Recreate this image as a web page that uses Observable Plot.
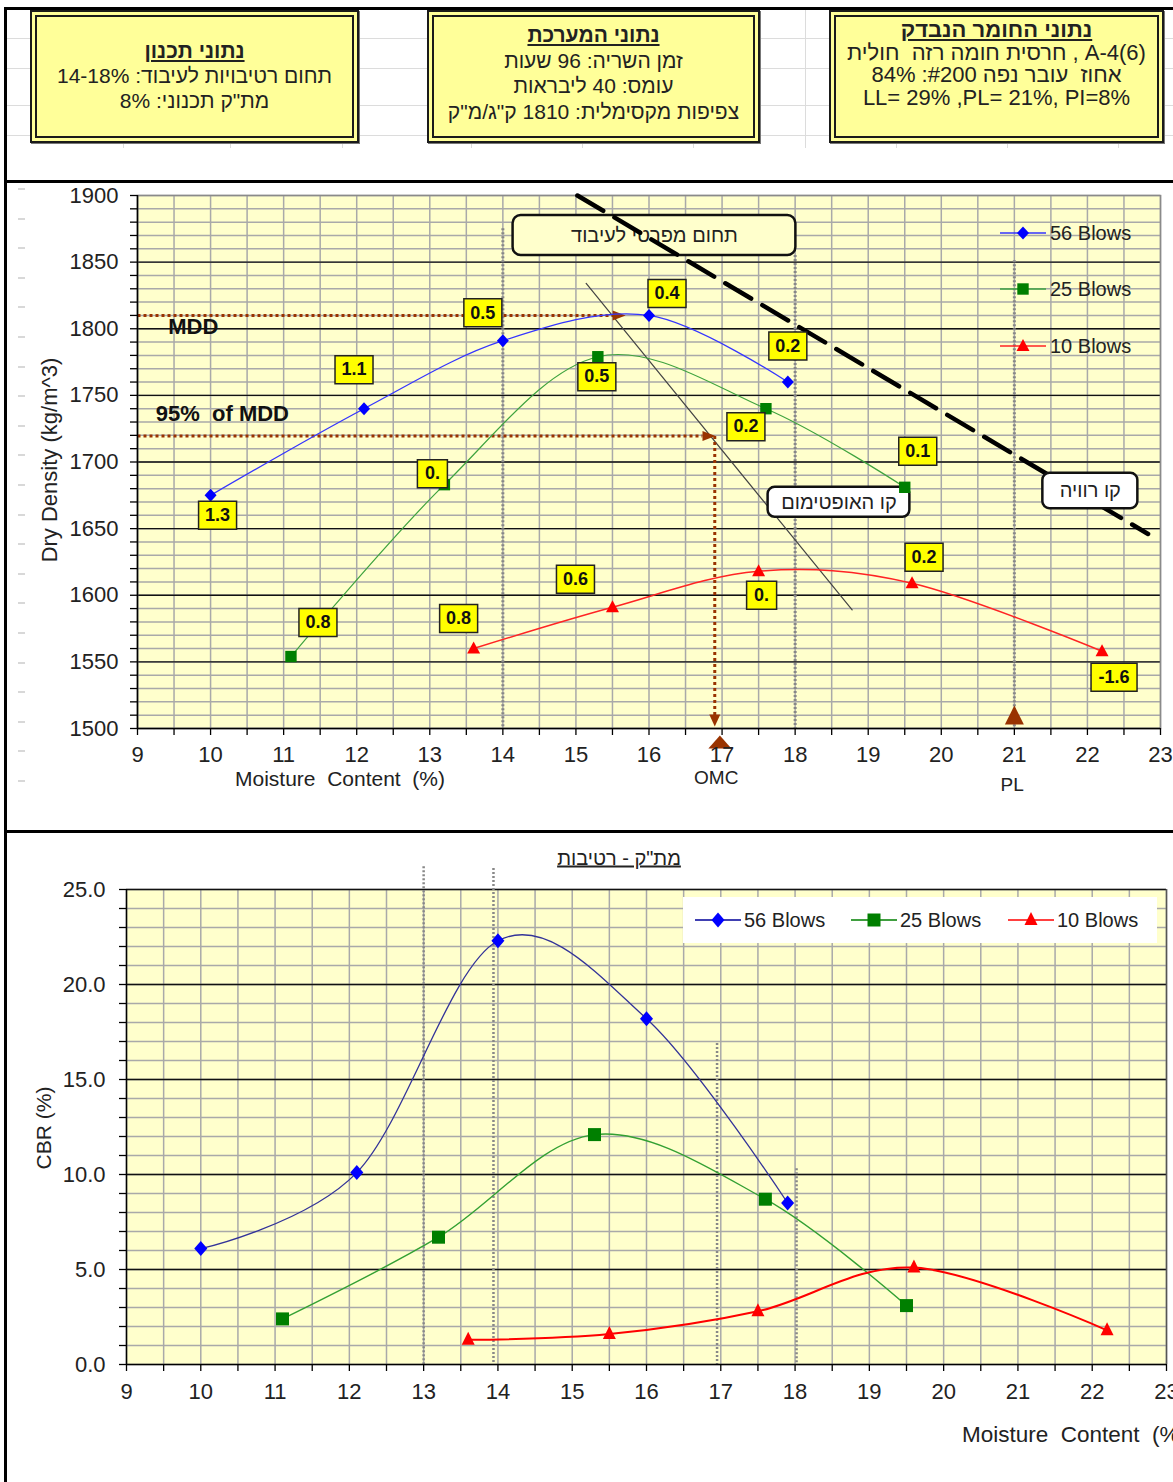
<!DOCTYPE html>
<html><head><meta charset="utf-8">
<script src="https://cdn.jsdelivr.net/npm/d3@7"></script>
<script src="https://cdn.jsdelivr.net/npm/@observablehq/plot@0.6"></script>
<style>
body{margin:0;background:#fff;}
#page{position:relative;width:1173px;height:1482px;overflow:hidden;background:#fff;font-family:"Liberation Sans",Arial,Helvetica,sans-serif;color:#222;}
.abs{position:absolute;}
.bl{position:absolute;background:#000;z-index:5;}
.sh{position:absolute;background:#dcdcdc;}
.box{position:absolute;box-sizing:border-box;background:#FFFF99;border:7px double #1a1a1a;direction:rtl;text-align:center;color:#222;z-index:2;box-shadow:1px 1px 0 #777;}
.box .t{font-weight:bold;text-decoration:underline;}
.lg{position:absolute;font-size:20px;white-space:nowrap;color:#222;line-height:24px;}
</style>
</head><body>
<div id="page"></div>
<script>
// ================= DATA =================
const seriesNames = ["56 Blows", "25 Blows", "10 Blows"];
const moisture56 = [10, 12.1, 14, 16, 17.9];
const moisture25 = [11.1, 13.2, 15.3, 17.6, 19.5];
const moisture10 = [13.6, 15.5, 17.5, 19.6, 22.2];
const density56 = [1675, 1740, 1791, 1810, 1760];
const density25 = [1554, 1683, 1779, 1740, 1681];
const density10 = [1560, 1591, 1618, 1609, 1558];
const cbr56 = [6.1, 10.1, 22.3, 18.2, 8.5];
const cbr25 = [2.4, 6.7, 12.1, 8.7, 3.1];
const cbr10 = [1.3, 1.6, 2.8, 5.1, 1.8];
const deviation56 = ["1.3", "1.1", "0.5", "0.4", "0.2"];
const deviation25 = ["0.8", "0.", "0.5", "0.2", "0.1"];
const deviation10 = ["0.8", "0.6", "0.", "0.2", "-1.6"];
const moistureTicks = d3.range(9, 23.001, 0.5);
const densityTicks = d3.range(1500, 1900.001, 10);
const cbrTicks = d3.range(0, 25.001, 1);
const mdd = 1810;
const mdd95 = 1719.5;
const mddMoisture = 15.68;
const omc = 16.9;
const omcMarker = 16.97;
const plasticLimit = 21;
const workRangeUpper = [{x: 14, top: 1875}, {x: 18, top: 1855}, {x: 21, top: 1851}];
const workRangeLower = [{x: 13, top: 26.2}, {x: 13.94, top: 26.1}, {x: 16.95, top: 16.9}, {x: 18.02, top: 10.3}];
const saturationLine = [{x: 15.02, y: 1900}, {x: 22.83, y: 1646}];
const optimumLine = [{x: 15.14, y: 1834}, {x: 18.78, y: 1589}];
const noteBoxes = [
  {x1: 14.14, x2: 18.01, y1: 1855, y2: 1885, text: "תחום מפרטי לעיבוד"},
  {x1: 21.39, x2: 22.69, y1: 1665, y2: 1691.5, text: "קו רוויה"},
  {x1: 17.63, x2: 19.57, y1: 1658.5, y2: 1681, text: "קו האופטימום"}
];
const boxDesign = ["נתוני תכנון", "תחום רטיבויות לעיבוד: 14-18%", "מת\"ק תכנוני: 8%"];
const boxSystem = ["נתוני המערכת", "זמן השריה: 96 שעות", "עומס: 40 ליבראות", "צפיפות מקסימלית: 1810 ק\"ג/מ\"ק"];
const boxMaterial = ["נתוני החומר הנבדק", "<bdi>A-4(6)</bdi> , חרסית חומה רזה&nbsp; חולית", "אחוז&nbsp; עובר נפה #200: 84%", "LL= 29% ,PL= 21%, PI=8%"];
const cbrTitle = "מת\"ק - רטיבות";

// ================= STYLE / LAYOUT =================
const font = '"Liberation Sans", Arial, Helvetica, sans-serif';
const markerFill = ["#0000FF", "#007F00", "#FF0000"];
const upperLine = ["#3535FF", "#3FA33F", "#FF2424"];
const upperWidth = [1.3, 1.2, 1.5];
const lowerLine = ["#333399", "#33A033", "#FF0000"];
const lowerWidth = [1.3, 1.4, 2];
const lowerLegendLine = ["#000099", "#007F00", "#FF0000"];
const upperPts = [
  [[0,-6.5],[6,0],[0,6.5],[-6,0]],
  [[-5.7,-5.7],[5.7,-5.7],[5.7,5.7],[-5.7,5.7]],
  [[0,-7],[6.5,5],[-6.5,5]]
];
const lowerPts = [
  [[0,-7.5],[6.5,0],[0,7.5],[-6.5,0]],
  [[-6.5,-6.5],[6.5,-6.5],[6.5,6.5],[-6.5,6.5]],
  [[0,-8],[6.5,5],[-6.5,5]]
];
const labelOffsets = [
  [[7,20],[-10,-39],[-20,-28],[18,-22],[0,-36]],
  [[27,-34],[-12,-11],[-1,20],[-20,18],[13,-36]],
  [[-15,-30],[-37,-28],[3,24],[12,-26],[12,26]]
];
const poly = pts => ({draw(ctx) { ctx.moveTo(pts[0][0], pts[0][1]); for (const p of pts.slice(1)) ctx.lineTo(p[0], p[1]); ctx.closePath(); }});
const pathOf = pts => "M" + pts.map(p => p.join(",")).join("L") + "Z";

const rows = (xs, ys, labels) => xs.map((x, i) => ({x, y: ys[i], label: labels ? labels[i] : null}));
const dens = [rows(moisture56, density56, deviation56), rows(moisture25, density25, deviation25), rows(moisture10, density10, deviation10)];
const cbrs = [rows(moisture56, cbr56), rows(moisture25, cbr25), rows(moisture10, cbr10)];

const page = document.getElementById("page");
function el(tag, cls, css, html) {
  const e = document.createElement(tag);
  if (cls) e.className = cls;
  if (css) e.style.cssText = css;
  if (html != null) e.innerHTML = html;
  page.appendChild(e);
  return e;
}

// faint spreadsheet grid in header
for (const y of [38, 68, 105, 135]) el("div", "sh", `left:7px;top:${y}px;width:1166px;height:1px`);
for (const x of [123, 230, 342, 471, 582, 693, 805, 896, 1007, 1118]) el("div", "sh", `left:${x}px;top:10px;width:1px;height:138px`);
for (let y = 188; y < 790; y += 29.6) el("div", "sh", `left:18px;top:${Math.round(y)}px;width:7px;height:2px;background:#d8d8d8`);

// header boxes
function infoBox(lines, css, lh) {
  const html = lines.map((t, i) => `<div class="${i === 0 ? "t" : ""}" style="line-height:${lh}px">${t}</div>`).join("");
  el("div", "box", css, html);
}
infoBox(boxDesign, "left:30px;top:10px;width:329px;height:133px;padding-top:21px;font-size:21px", 25);
infoBox(boxSystem, "left:427px;top:10px;width:333px;height:133px;padding-top:5px;font-size:21px", 25.7);
infoBox(boxMaterial, "left:829px;top:10px;width:335px;height:133px;padding-top:2px;font-size:22px", 22.7);

// ================= UPPER CHART =================
const upperMarks = [
  Plot.frame({fill: "#FFFFCC"}),
  Plot.ruleX(moistureTicks, {stroke: "#A9A9A9", strokeWidth: 1.5}),
  Plot.ruleY(densityTicks, {stroke: "#A9A9A9", strokeWidth: 1.5}),
  Plot.ruleY(densityTicks.filter(d => d % 50 === 0 && d > 1500 && d < 1900), {stroke: "#111", strokeWidth: 1.4}),
  Plot.frame({stroke: "#8a8a8a", strokeWidth: 1.5}),
  Plot.ruleX(workRangeUpper, {x: "x", y1: "top", y2: () => 1500, stroke: "#888", strokeWidth: 3, strokeDasharray: "2,2"}),
  Plot.line(optimumLine, {x: "x", y: "y", stroke: "#444", strokeWidth: 1.2}),
  Plot.rect(noteBoxes.slice(0, 1), {x1: "x1", x2: "x2", y1: "y1", y2: "y2", fill: "#FFFFCC", stroke: "#111", strokeWidth: 2.5, rx: 8}),
  Plot.text(noteBoxes.slice(0, 1), {x: d => (d.x1 + d.x2) / 2, y: d => (d.y1 + d.y2) / 2, text: "text", fontSize: 20, fill: "#222"}),
  Plot.line(saturationLine, {x: "x", y: "y", stroke: "#000", strokeWidth: 4.5, strokeDasharray: "30,13"}),
  Plot.rect(noteBoxes.slice(1), {x1: "x1", x2: "x2", y1: "y1", y2: "y2", fill: "#fff", stroke: "#111", strokeWidth: 2.5, rx: 7}),
  Plot.text(noteBoxes.slice(1), {x: d => (d.x1 + d.x2) / 2, y: d => (d.y1 + d.y2) / 2, text: "text", fontSize: 20, fill: "#222"}),
  // MDD guides
  Plot.link([{x1: 9, x2: mddMoisture - 0.17, y: mdd}, {x1: 9, x2: omc - 0.17, y: mdd95}], {x1: "x1", x2: "x2", y1: "y", y2: "y", stroke: "#993300", strokeWidth: 3, strokeDasharray: "3,3"}),
  Plot.link([{x: omc, y1: mdd95, y2: 1509}], {x1: "x", x2: "x", y1: "y1", y2: "y2", stroke: "#993300", strokeWidth: 3, strokeDasharray: "3,3"}),
  Plot.dot([{x: mddMoisture, y: mdd}, {x: omc + 0.01, y: mdd95}], {x: "x", y: "y", symbol: poly([[0,0],[-13,-5],[-13,5]]), fill: "#993300", stroke: "none"}),
  Plot.dot([{x: omc, y: 1500}], {x: "x", y: "y", dy: -2, symbol: poly([[0,0],[-5.5,-12],[5.5,-12]]), fill: "#993300", stroke: "none"}),
  Plot.dot([{x: omcMarker, y: 1500}], {x: "x", y: "y", symbol: poly([[0,7],[-11.5,20],[11.5,20]]), fill: "#993300", stroke: "none"}),
  Plot.dot([{x: plasticLimit, y: 1500}], {x: "x", y: "y", symbol: poly([[0,-23],[-9.5,-4],[9.5,-4]]), fill: "#993300", stroke: "none"}),
  Plot.text([{x: 9.42, y: 1801, t: "MDD"}, {x: 9.25, y: 1736, t: "95%  of MDD"}], {x: "x", y: "y", text: "t", textAnchor: "start", fontSize: 22, fontWeight: "bold", fill: "#111"}),
  // axes
  Plot.axisX(moistureTicks, {tickFormat: d => Number.isInteger(d) ? String(d) : "", tickSize: 7, tickPadding: 11, fontSize: 22, stroke: "#000", strokeWidth: 1.3, label: null}),
  Plot.axisY(densityTicks, {tickFormat: d => d % 50 === 0 ? String(d) : "", tickSize: 7, tickPadding: 12, fontSize: 22, stroke: "#000", strokeWidth: 1.3, label: null}),
  Plot.ruleX([9], {stroke: "#000", strokeWidth: 1.5}),
  Plot.ruleY([1500], {stroke: "#000", strokeWidth: 1.5}),
  Plot.text([{x: omcMarker - 0.05, t: "OMC", d: 49}, {x: plasticLimit - 0.03, t: "PL", d: 56}].slice(0, 1), {x: "x", y: () => 1500, dy: 49, text: "t", fontSize: 19, fill: "#222"}),
  Plot.text([{x: plasticLimit - 0.03, t: "PL"}], {x: "x", y: () => 1500, dy: 56, text: "t", fontSize: 19, fill: "#222"}),
];
dens.forEach((d, i) => {
  upperMarks.push(Plot.line(d, {x: "x", y: "y", stroke: upperLine[i], strokeWidth: upperWidth[i], curve: "cardinal"}));
});
dens.forEach((d, i) => {
  upperMarks.push(Plot.dot(d, {x: "x", y: "y", symbol: poly(upperPts[i]), fill: markerFill[i], stroke: "none"}));
});
dens.forEach((d, i) => {
  d.forEach((r, j) => {
    const [dx, dy] = labelOffsets[i][j];
    const w = 14 + 8 * r.label.length;
    upperMarks.push(Plot.dot([r], {x: "x", y: "y", dx, dy, symbol: poly([[-w/2,-14],[w/2,-14],[w/2,14],[-w/2,14]]), fill: "#FFFF00", stroke: "#222", strokeWidth: 1.5}));
    upperMarks.push(Plot.text([r], {x: "x", y: "y", dx, dy, text: "label", fontSize: 18, fontWeight: "bold", fill: "#111"}));
  });
});

const chart1 = Plot.plot({
  width: 1173, height: 647,
  marginLeft: 137, marginRight: 13, marginTop: 12, marginBottom: 102,
  x: {domain: [9, 23]},
  y: {domain: [1500, 1900]},
  style: {fontFamily: font, fontSize: "20px", color: "#222", background: "transparent", overflow: "visible"},
  marks: upperMarks
});
const c1 = el("div", "abs", "left:0;top:183px;z-index:1");
c1.appendChild(chart1);

el("div", "abs", "left:50px;top:460px;transform:translate(-50%,-50%) rotate(-90deg);font-size:22px;white-space:nowrap;z-index:3", "Dry Density (kg/m^3)");
el("div", "abs", "left:340px;top:779px;transform:translate(-50%,-50%);font-size:21px;white-space:pre;z-index:3", "Moisture  Content  (%)");

// legends
function legendItem(i, x, y, pts, lineColor, textX) {
  el("div", "abs", `left:${x}px;top:${y - 10}px;z-index:4`,
    `<svg width="46" height="20"><line x1="0" x2="46" y1="10" y2="10" stroke="${lineColor}" stroke-width="1.5"/><path transform="translate(23,10)" d="${pathOf(pts)}" fill="${markerFill[i]}"/></svg>`);
  el("div", "lg", `left:${textX}px;top:${y - 12}px;z-index:4`, seriesNames[i]);
}
[233, 289, 346].forEach((y, i) => legendItem(i, 1000, y, upperPts[i], upperLine[i], 1050));

// ================= LOWER CHART =================
const lowerMarks = [
  Plot.frame({fill: "#FFFFCC"}),
  Plot.ruleX(moistureTicks, {stroke: "#A9A9A9", strokeWidth: 1.5}),
  Plot.ruleY(cbrTicks, {stroke: "#A9A9A9", strokeWidth: 1.5}),
  Plot.ruleY(cbrTicks.filter(d => d % 5 === 0 && d > 0), {stroke: "#111", strokeWidth: 1.4}),
  Plot.ruleX([23], {stroke: "#555", strokeWidth: 1.5}),
  Plot.ruleX(workRangeLower, {x: "x", y1: "top", y2: () => 0, stroke: "#888", strokeWidth: 2.5, strokeDasharray: "2,2"}),
  Plot.axisX(moistureTicks, {tickFormat: d => Number.isInteger(d) ? String(d) : "", tickSize: 7, tickPadding: 12, fontSize: 22, stroke: "#000", strokeWidth: 1.3, label: null}),
  Plot.axisY(cbrTicks, {tickFormat: d => d % 5 === 0 ? d.toFixed(1) : "", tickSize: 7, tickPadding: 14, fontSize: 22, stroke: "#000", strokeWidth: 1.3, label: null}),
  Plot.ruleX([9], {stroke: "#000", strokeWidth: 1.5}),
  Plot.ruleY([0], {stroke: "#000", strokeWidth: 1.5}),
];
cbrs.forEach((d, i) => {
  lowerMarks.push(Plot.line(d, {x: "x", y: "y", stroke: lowerLine[i], strokeWidth: lowerWidth[i], curve: "cardinal"}));
});
cbrs.forEach((d, i) => {
  lowerMarks.push(Plot.dot(d, {x: "x", y: "y", symbol: poly(lowerPts[i]), fill: markerFill[i], stroke: "none"}));
});

const chart2 = Plot.plot({
  width: 1173, height: 649,
  marginLeft: 126, marginRight: 7, marginTop: 56, marginBottom: 118,
  x: {domain: [9, 23]},
  y: {domain: [0, 25]},
  style: {fontFamily: font, fontSize: "20px", color: "#222", background: "transparent", overflow: "visible"},
  marks: lowerMarks
});
const c2 = el("div", "abs", "left:0;top:833px;z-index:1");
c2.appendChild(chart2);

el("div", "abs", "left:619px;top:858px;transform:translate(-50%,-50%);font-size:20px;text-decoration:underline;direction:rtl;white-space:nowrap;z-index:3", cbrTitle);
el("div", "abs", "left:44px;top:1128px;transform:translate(-50%,-50%) rotate(-90deg);font-size:21px;white-space:nowrap;z-index:3", "CBR (%)");
el("div", "abs", "left:962px;top:1435px;transform:translate(0,-50%);font-size:22.5px;white-space:pre;z-index:3", "Moisture  Content  (%)");

el("div", "abs", "left:683px;top:897px;width:474px;height:46px;background:#fff;z-index:3");
[[695, 744], [851, 900], [1008, 1057]].forEach(([x, tx], i) => legendItem(i, x, 920, lowerPts[i], lowerLegendLine[i], tx));

// page borders
el("div", "bl", "left:4px;top:7px;width:3px;height:1475px");
el("div", "bl", "left:4px;top:7px;width:1169px;height:3px");
el("div", "bl", "left:4px;top:180px;width:1169px;height:3px");
el("div", "bl", "left:4px;top:830px;width:1169px;height:3px");
</script>
</body></html>
